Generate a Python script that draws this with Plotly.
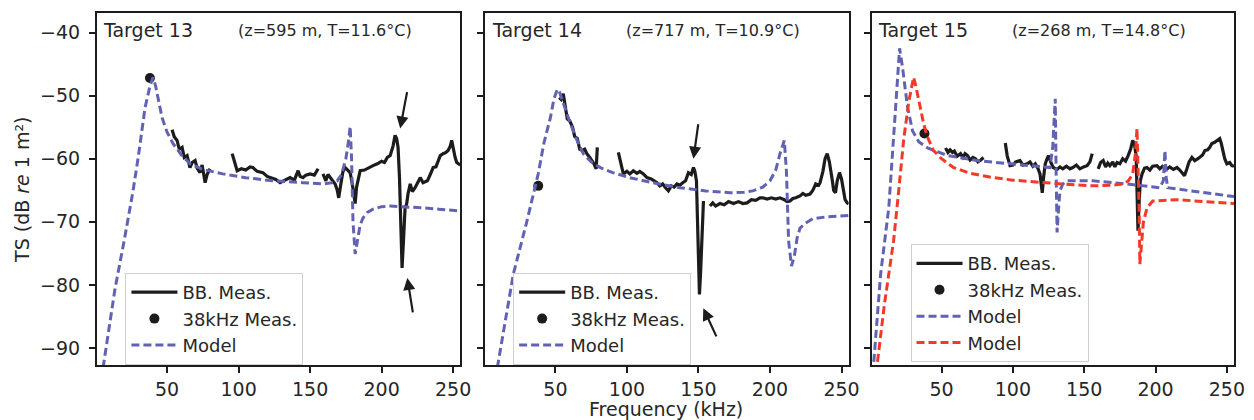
import plotly.graph_objects as go

# --- Target info ---
targets = ["Target 13", "Target 14", "Target 15"]
conditions = ["(z=595 m, T=11.6°C)", "(z=717 m, T=10.9°C)", "(z=268 m, T=14.8°C)"]

# --- Target 13 ---
t13_model_f = [4, 13.6, 20, 26.2, 30, 34.6, 38, 40.2, 42, 44, 46.5, 50, 54.2, 60, 66, 75, 89, 105, 124, 145,
               159, 165, 169, 172, 175, 177, 178, 179, 180, 181.5, 183, 185, 187, 190, 194, 200, 206, 215,
               229, 240, 255]
t13_model_ts = [-95, -80.6, -73, -65.1, -59.5, -51.9, -48.5, -47.1, -48.5, -51, -53.5, -55.8, -57.6, -59.4,
                -60.8, -61.7, -62.4, -63, -63.5, -63.8, -64, -63.8, -63.5, -62.5, -60, -57, -54.9, -60, -70,
                -75.1, -73, -70.5, -69.4, -68.5, -68, -67.6, -67.5, -67.6, -67.8, -68, -68.3]
t13_bb_f = [53.5, 55, 57, 58.5, 60.5, 62, 64, 65, 66, 67.5, 69.6, 71, 73, 74.5, 75.5, 76.6, 78, 80, None,
            95.5, 97, 99, 102, 105, 108, 110, 113, 117, 120, 123, 126, 129, 132, 136, 139, 141.6, 143, 145,
            147, 150, 153, 155.6, None,
            159, 161, 162.5, 164, 166, 167.5, 169, 170, 171.5, 173, 174.5, 176, 178, 179.5, 180.5, 181.5,
            182.5, 184, 185, 188, 191, 194, 197, 200, 202, 204, 206, 208, 209.4, 210.5, 211.5, 212.5, 213.5,
            214.3, 215.3, 216.4, 217.5, 218.5, 220, 221.5, 223.4, 225, 227, 229, 232, 234, 236, 238, 240,
            241, 243, 245, 246.5, 248, 249, 250, 251.4, 252.5, 253.5, 255]
t13_bb_ts = [-55.4, -56.5, -57.1, -58.5, -58.2, -59.8, -59.5, -60.5, -61.4, -60.6, -60.3, -61.5, -62.2, -61,
             -62.5, -63.8, -62.5, -61.6, None,
             -59.2, -60.5, -61.9, -61.6, -61.8, -61.3, -61.4, -62, -62.2, -62.8, -63, -63.3, -63.8, -63.4,
             -63, -63.4, -61.9, -62.8, -63, -62.6, -62.4, -62.6, -61.6, None,
             -62.4, -63.5, -62.5, -63, -63.5, -64, -65, -66.2, -64, -62, -61.4, -61.8, -62.2, -64, -66,
             -67.1, -64.5, -62.5, -61.9, -61.8, -61.4, -61.1, -60.8, -60.4, -60.6, -59.8, -59.5, -58,
             -56.3, -56.8, -58.2, -63, -71, -77.3, -73, -67.8, -67.2, -65.5, -64, -65.2, -64.6, -63.8, -63,
             -63.8, -63.5, -62.5, -61.4, -61.3, -60, -59.5, -59.2, -59, -58.7, -58, -57.1, -58.5, -59.8,
             -60.6, -60.8, -61]
t13_38_f = [38]
t13_38_ts = [-47.2]

# --- Target 14 ---
t14_model_f = [8, 20.6, 30, 38, 42, 46.5, 49, 51.4, 53, 56, 60.4, 65, 69.5, 75, 81.4, 90, 102, 120, 137,
               155, 172, 182, 188, 195, 200, 204, 207, 210, 211.5, 213, 215, 217, 219, 221, 225, 230, 240,
               255]
t14_model_ts = [-95, -78.3, -70, -62.4, -57.5, -53.5, -50.5, -49, -49.5, -51.5, -54.4, -57, -59.2, -60.5,
                -61.4, -62.2, -63, -63.9, -64.6, -65.1, -65.4, -65.3, -65.1, -64.5, -63.5, -61.8, -59.2,
                -57.1, -62, -73, -77, -75.5, -72.5, -71, -70.2, -69.5, -69.2, -69]
t14_bb_f = [52.7, 54, 55.5, 56.5, 57.5, 58.3, 60, 62, 63.5, 65.3, 67, 68.8, 70.5, 72, 74, 75.8, 77, 78.5,
            79.3, None,
            94, 95.5, 97.5, 100, 102, 104.5, 107, 109, 111.5, 114, 117, 119, 121, 123, 125, 127, 129, 131,
            133, 135, 137, 139, 141, 143, 145, 146.5, 147.5, 148.6, 149.3, 150, 150.7, 151.5, 152.3, 153.5,
            None,
            158, 160, 162, 165, 168, 171, 174.5, 178, 181, 184, 187, 190, 193, 195, 198, 201, 204, 207, 210,
            212, 214, 216, 218, 221, 223, 225, 228, 230, 232, 234, 235, 237, 238.5, 240, 241.5, 242.5,
            243.6, 244.5, 245.8, 247, 248.6, 250, 251, 252.5, 254, 255]
t14_bb_ts = [-50.3, -50.6, -49.7, -51, -53, -53.7, -54, -55, -56.5, -56.8, -58.5, -58.7, -58.5, -59.2,
             -59.8, -60.3, -60.8, -61.6, -58.2, None,
             -59, -60.5, -62.4, -62, -62.4, -61.9, -62.3, -62, -62.4, -63, -63.2, -63.5, -63.8, -64.3, -64,
             -64.6, -65.1, -64.3, -64.5, -64, -64.2, -63.8, -63.5, -62.2, -62.5, -61.4, -62, -63.5, -70,
             -78.3, -81.5, -78, -72, -66.7, None,
             -67.5, -67, -67.5, -67.1, -67.3, -66.8, -67.1, -66.8, -67.1, -67, -66.5, -66.6, -66.2, -66.2,
             -66.4, -66.2, -66.4, -66.2, -66.5, -66.8, -66.7, -66.3, -66.2, -65.9, -65.5, -65.8, -65.6, -65,
             -64, -64.2, -63.8, -62, -60, -59.2, -60.5, -62.4, -63.5, -65, -65.4, -63.5, -62.2, -63.2,
             -64.6, -66.5, -67, -67.2]
t14_38_f = [38]
t14_38_ts = [-64.3]

# --- Target 15 ---
t15_model_f = [1.5, 2.4, 7.3, 13, 17.8, 20.6, 22.7, 24.5, 26.2, 29.7, 34, 40.2, 54.2, 75, 110, 120, 126, 128,
               129.7, 130.3, 131, 132, 133, 135, 138, 156, 180, 203, 205.5, 206.6, 207.5, 208.5, 226, 240,
               255]
t15_model_ts = [-96, -92.5, -78.3, -67.8, -51.9, -42.5, -45.6, -49, -51.9, -55.6, -57.3, -58.3, -59.5,
                -60.3, -61.1, -61.3, -61.4, -58, -50.5, -62, -71.7, -68, -65.1, -64, -63.5, -63.5, -64,
                -64.6, -63.5, -58.7, -63, -64.6, -65.1, -65.5, -66]
t15_model2_f = [4, 5.2, 10, 16.4, 20, 23.4, 27, 30.4, 32, 34, 37.4, 40, 44.4, 50, 58.4, 70, 86.4, 100, 121.3,
                140, 156, 170, 177, 181, 184, 186, 187, 187.8, 188.5, 189, 190, 191.5, 194, 198, 215, 235,
                255]
t15_model2_ts = [-96, -92, -83, -73, -65, -57.1, -51, -47.1, -48.5, -50.8, -54.4, -56.5, -58.7, -60, -61.4,
                 -62.3, -63, -63.4, -63.8, -64.1, -64.3, -64.2, -64, -63.5, -62.4, -59, -55.2, -62, -67.8,
                 -76.7, -74, -70, -67.8, -66.7, -66.5, -66.8, -67.1]
t15_bb_f = [52.8, 54.5, 56, 57.7, 59, 61, 63.3, 65, 66.5, 68.2, 70, 72, 73.8, 75.5, 77.5, 79.4, None,
            94.7, 96, 98, 100, 102, 105, 107, 110, 112, 114, 115.7, 117.5, 119, 119.8, 120.6, 121.5, 122.7,
            124, 125, 126.5, 128.3, 131, 133, 135, 137.5, 140, 142, 144.5, 147, 149.5, 152, 154, 155.6, None,
            159.8, 161.5, 163.3, 165, 166.5, 168, 170, 171.5, 173, 175, 177, 179, 180.8, 182.5, 184, 185.3,
            186.4, 187.1, 187.7, 188.5, 189.3, 190.6, 192.3, 194, 196, 198, 201, 203, 205, 208, 210, 212.5,
            215, 217, 218.5, 220.3, 222, 223.5, 225.5, 227.5, 229.7, 231.5, 233, 234.6, 236.5, 238, 239.5,
            241.5, 243, 245, 246, 247, 248.5, 250, 252, 253.5, 255]
t15_bb_ts = [-58.3, -59, -58.6, -59, -58.8, -59.6, -59.2, -59.8, -59.2, -59.5, -60.2, -59.8, -60, -60.5,
             -60.2, -59.8, None,
             -57.5, -59.5, -61.1, -61, -60.5, -60.3, -61, -60.8, -60.5, -61.2, -60.8, -61.5, -62.4, -64,
             -65.4, -63, -60.8, -60, -59.5, -60.5, -61.4, -61.7, -61.3, -61.6, -61.2, -61.6, -61.4, -61,
             -61.6, -61.3, -61.1, -60.5, -59.2, None,
             -61.6, -60.6, -60.3, -61.3, -60.7, -61.1, -60.5, -61.3, -60.6, -60.8, -60, -60.4, -59.5, -58.5,
             -57.1, -57.8, -59.5, -65, -71.4, -67, -63.5, -62.4, -61.5, -61.4, -61.8, -61.2, -61.1, -61.6,
             -61.2, -61.6, -61.3, -61.7, -61.4, -61.8, -62.3, -62.7, -61.6, -60.5, -59.8, -60.3, -60, -59.6,
             -59.4, -58.7, -58.6, -58.2, -57.6, -57.4, -57.2, -56.8, -57.5, -58.7, -60, -60.8, -60.6, -61.1,
             -61.2]
t15_38_f = [38]
t15_38_ts = [-56.0]

# arrows: (head f, head ts, tail f, tail ts)
t13_arrows = [(213, -55.2, 218, -49.2), (218, -78.9, 222, -84.6)]
t14_arrows = [(146.5, -60, 150, -54.3), (153.4, -83.7, 163, -88.4)]

x_ticks = [50, 100, 150, 200, 250]
y_ticks = [-40, -50, -60, -70, -80, -90]

BLUE = "#6262b5"
RED = "#f33a2a"
BLACK = "#1c1c1c"
TXT = "#262626"
FONT = "DejaVu Sans"

fig = go.Figure()

panels = [
    (t13_model_f, t13_model_ts, None, None, t13_bb_f, t13_bb_ts, t13_38_f, t13_38_ts),
    (t14_model_f, t14_model_ts, None, None, t14_bb_f, t14_bb_ts, t14_38_f, t14_38_ts),
    (t15_model_f, t15_model_ts, t15_model2_f, t15_model2_ts, t15_bb_f, t15_bb_ts, t15_38_f, t15_38_ts),
]

for i, (mf, mts, m2f, m2ts, bf, bts, df, dts) in enumerate(panels):
    xa = "x" if i == 0 else f"x{i+1}"
    ya = "y" if i == 0 else f"y{i+1}"
    leg = "legend" if i == 0 else f"legend{i+1}"
    fig.add_trace(go.Scatter(x=bf, y=bts, mode="lines", name="BB. Meas.", xaxis=xa, yaxis=ya,
                             line=dict(color=BLACK, width=3.2), legend=leg, legendgroup=f"a{i}",
                             connectgaps=False))
    fig.add_trace(go.Scatter(x=df, y=dts, mode="markers", name="38kHz Meas.", xaxis=xa, yaxis=ya,
                             marker=dict(color=BLACK, size=10), legend=leg, legendgroup=f"b{i}"))
    fig.add_trace(go.Scatter(x=mf, y=mts, mode="lines", name="Model", xaxis=xa, yaxis=ya,
                             line=dict(color=BLUE, width=3, dash="8px,4px"), legend=leg, legendgroup=f"c{i}"))
    if m2f is not None:
        fig.add_trace(go.Scatter(x=m2f, y=m2ts, mode="lines", name="Model", xaxis=xa, yaxis=ya,
                                 line=dict(color=RED, width=3, dash="8px,4px"), legend=leg,
                                 legendgroup=f"d{i}"))

# --- axes ---
domains = [[0, 0.3195], [0.3415, 0.6611], [0.6813, 1.0]]
axis_style = dict(showline=True, linecolor=BLACK, linewidth=2, mirror=True, ticks="outside",
                  ticklen=6, tickwidth=1.5, tickcolor=BLACK, showgrid=False, zeroline=False,
                  automargin=False, tickfont=dict(family=FONT, size=19, color=TXT))
layout = {}
for i in range(3):
    xkey = "xaxis" if i == 0 else f"xaxis{i+1}"
    ykey = "yaxis" if i == 0 else f"yaxis{i+1}"
    ya = "y" if i == 0 else f"y{i+1}"
    xa = "x" if i == 0 else f"x{i+1}"
    layout[xkey] = dict(domain=domains[i], range=[1, 255], tickvals=x_ticks, anchor=ya,
                        ticklabelstandoff=0, **axis_style)
    layout[ykey] = dict(domain=[0, 1], range=[-92.7, -36.9], tickvals=y_ticks, anchor=xa,
                        showticklabels=(i == 0), ticklabelstandoff=5, **axis_style)
fig.update_layout(**layout)

# --- titles and arrows ---
annotations = [
    dict(text="Frequency (kHz)", xref="paper", yref="paper", x=0.5, y=-0.125, xanchor="center",
         yanchor="middle", showarrow=False, font=dict(family=FONT, size=19, color=TXT)),
    dict(text="TS (dB <i>re</i> 1 m²)", xref="paper", yref="paper", x=-0.066, y=0.5, textangle=-90,
         xanchor="center", yanchor="middle", showarrow=False, font=dict(family=FONT, size=19, color=TXT)),
]
for i in range(3):
    xr = "x domain" if i == 0 else f"x{i+1} domain"
    yr = "y domain" if i == 0 else f"y{i+1} domain"
    annotations.append(dict(text=targets[i], xref=xr, yref=yr, x=0.012, y=0.951,
                            xanchor="left", yanchor="middle", showarrow=False,
                            font=dict(family=FONT, size=19, color=TXT)))
    annotations.append(dict(text=conditions[i], xref=xr, yref=yr, x=0.383, y=0.951,
                            xanchor="left", yanchor="middle", showarrow=False,
                            font=dict(family=FONT, size=16, color=TXT)))
for i, arrows in [(0, t13_arrows), (1, t14_arrows)]:
    xa = "x" if i == 0 else f"x{i+1}"
    ya = "y" if i == 0 else f"y{i+1}"
    for hx, hy, tx, ty in arrows:
        annotations.append(dict(x=hx, y=hy, ax=tx, ay=ty, xref=xa, yref=ya, axref=xa, ayref=ya,
                                showarrow=True, arrowhead=2, arrowsize=1.1, arrowwidth=2.2,
                                arrowcolor=BLACK, text=""))

legend_style = dict(bgcolor="rgba(255,255,255,0.85)", bordercolor="#d0d0d0", borderwidth=1,
                    font=dict(family=FONT, size=18, color=TXT), xanchor="left", yanchor="bottom",
                    tracegroupgap=0, itemwidth=46)

# page body adds an 8px margin, so margins are shifted to keep the plot where it belongs
fig.update_layout(
    annotations=annotations,
    width=1246, height=412,
    margin=dict(l=89, r=20, t=5, b=55),
    plot_bgcolor="white", paper_bgcolor="white",
    legend=dict(x=0.025, y=0.0, **legend_style),
    legend2=dict(x=0.366, y=0.0, **legend_style),
    legend3=dict(x=0.7155, y=0.008, **legend_style),
)

fig.write_html("out.html")
